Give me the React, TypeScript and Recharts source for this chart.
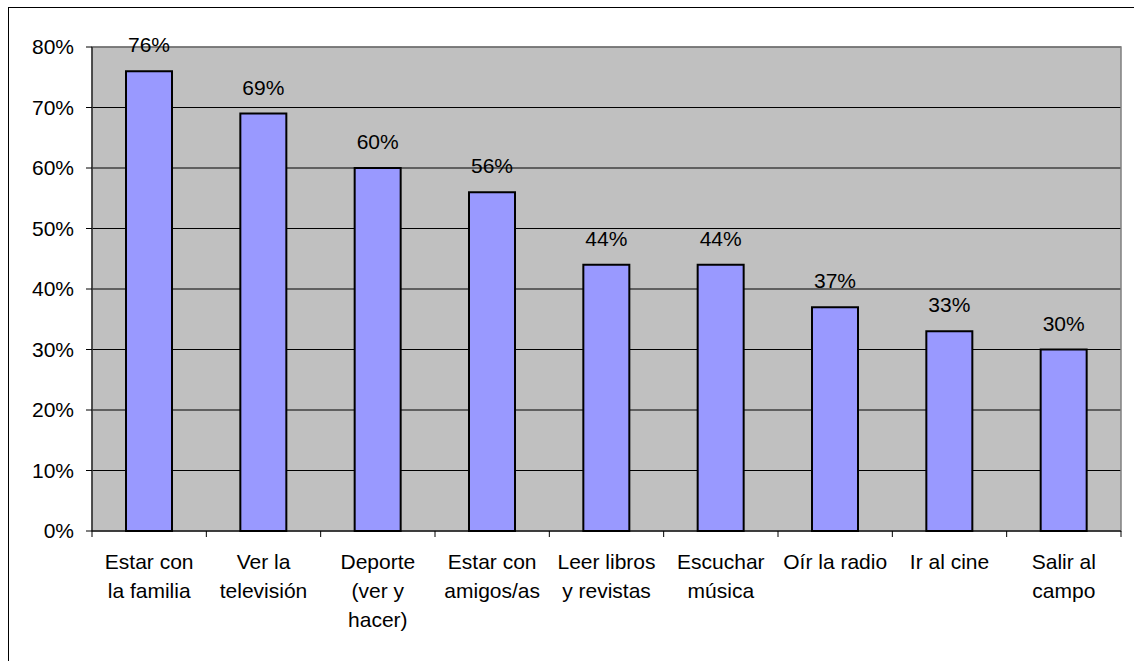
import React from "react";
import { BarChart, Bar, XAxis, YAxis, CartesianGrid, LabelList, ReferenceArea } from "recharts";

// Categories (line breaks as they wrap under the axis)
const categories = [
    "Estar con\nla familia",
    "Ver la\ntelevisión",
    "Deporte\n(ver y\nhacer)",
    "Estar con\namigos/as",
    "Leer libros\ny revistas",
    "Escuchar\nmúsica",
    "Oír la radio",
    "Ir al cine",
    "Salir al\ncampo",
];
const shares = [0.76, 0.69, 0.6, 0.56, 0.44, 0.44, 0.37, 0.33, 0.3];
const yTicks = [0, 0.1, 0.2, 0.3, 0.4, 0.5, 0.6, 0.7, 0.8];

const data = categories.map((name, i) => ({ name, value: shares[i] }));

const FONT = "'Liberation Sans', Arial, sans-serif";
const CHART_W = 1125;
const CHART_H = 652;
const MARGIN = { top: 39, right: 13, left: 0, bottom: 0 };
const Y_W = 83;
const BAND = (CHART_W - MARGIN.left - MARGIN.right - Y_W) / categories.length;

const pct = (v: number) => `${Math.round(v * 100)}%`;

const CategoryTick = ({ x, y, payload, index }: any) => {
    const lines = String(payload.value).split("\n");
    const last = index === categories.length - 1;
    return (
        <g>
            <line x1={x - BAND / 2} x2={x - BAND / 2} y1={y} y2={y + 6} stroke="#000" />
            {last && <line x1={x + BAND / 2} x2={x + BAND / 2} y1={y} y2={y + 6} stroke="#000" />}
            {lines.map((ln, i) => (
                <text key={i} x={x} y={y + 38 + i * 29} textAnchor="middle"
                    fontSize={21} fontFamily={FONT} fill="#000">
                    {ln}
                </text>
            ))}
        </g>
    );
};

export default function App() {
    return (
        <>
            <style>{"html,body{overflow:hidden}"}</style>
            <div style={{
                position: "absolute",
                left: 8,
                top: 7,
                width: 1126,
                height: 654,
                borderTop: "1px solid #000",
                borderLeft: "1px solid #000",
                boxSizing: "border-box",
                overflow: "hidden",
                background: "#fff",
            }}>
                <BarChart width={CHART_W} height={CHART_H} data={data} margin={MARGIN}>
                    <CartesianGrid vertical={false} stroke="#000" fill="#C0C0C0" fillOpacity={1} />
                    <ReferenceArea y1={0} y2={0.8} fill="none" stroke="#808080" strokeWidth={1.5} />
                    <XAxis
                        dataKey="name"
                        interval={0}
                        height={129}
                        tickSize={0}
                        tickMargin={0}
                        tickLine={false}
                        axisLine={{ stroke: "#000" }}
                        tick={<CategoryTick />}
                    />
                    <YAxis
                        width={Y_W}
                        domain={[0, 0.8]}
                        ticks={yTicks}
                        tickFormatter={pct}
                        tickSize={6}
                        tickMargin={12}
                        axisLine={{ stroke: "#000" }}
                        tickLine={{ stroke: "#000" }}
                        tick={{ fontSize: 21, fontFamily: FONT, fill: "#000" }}
                    />
                    <Bar dataKey="value" barSize={46} fill="#9999FF" stroke="#000" strokeWidth={2} isAnimationActive={false}>
                        <LabelList dataKey="value" position="top" offset={19} formatter={(v: any) => pct(v)}
                            style={{ fontSize: 21, fontFamily: FONT, fill: "#000" }} />
                    </Bar>
                </BarChart>
            </div>
        </>
    );
}
